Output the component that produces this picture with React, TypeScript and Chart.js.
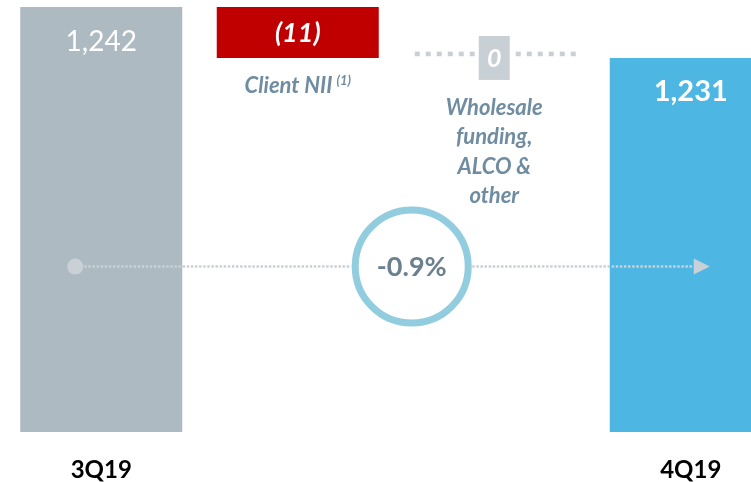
import React, { useEffect, useRef } from 'react';
import { Chart, registerables } from 'chart.js';

Chart.register(...registerables);

// ---- data ----
const categories = ['3Q19', 'Client NII', 'Wholesale funding, ALCO & other', '4Q19'];
const axisLabels = ['3Q19', '', '', '4Q19'];
const startValue = 1242;
const deltas = [-11, 0];
const endValue = 1231;
const valueLabels = ['1,242', '(11)', '0', '1,231'];
const noteLines: string[][] = [[], ['Client NII'], ['Wholesale', 'funding,', 'ALCO &', 'other'], []];
const noteSuperscripts = ['', '(1)', '', ''];
const Y_MIN = 1150.33;
const Y_MAX = 1243.5;

// ---- styles ----
const FONT = 'Lato, "Open Sans", sans-serif';
const GREY_BAR = '#adbac2';
const RED_BAR = '#c00000';
const BLUE_BAR = '#4db6e2';
const ZERO_BOX = '#c8d0d6';
const NOTE_COLOR = '#6f8ca1';
const DOT_COLOR = '#c9d1d7';
const RING_COLOR = '#92cddf';
const RING_TEXT = '#6a808e';

function buildBars() {
  const out: (number | [number, number])[] = [startValue];
  let run = startValue;
  deltas.forEach((d) => {
    const next = run + d;
    out.push([Math.min(run, next), Math.max(run, next)]);
    run = next;
  });
  out.push(endValue);
  return out;
}

const overlayPlugin = {
  id: 'waterfallOverlay',
  afterDatasetsDraw(chart: any) {
    const ctx: CanvasRenderingContext2D = chart.ctx;
    const meta = chart.getDatasetMeta(0);
    const area = chart.chartArea;
    const yScale = chart.scales.y;
    const bars = meta.data;
    ctx.save();

    // zero-change box with dotted guides
    let run = startValue;
    deltas.forEach((d, i) => {
      const idx = i + 1;
      const next = run + d;
      if (d === 0) {
        const cx = bars[idx].x;
        const cy = yScale.getPixelForValue(next);
        const bw = 31, bh = 44;
        ctx.fillStyle = ZERO_BOX;
        const gy = cy - 4;
        for (let k = 0; k < 6; k++) {
          ctx.fillRect(cx - bw / 2 - 9 - k * 11, gy - 2.3, 5, 4.6);
          ctx.fillRect(cx + bw / 2 + 6 + k * 11, gy - 2.3, 5, 4.6);
        }
        ctx.fillRect(cx - bw / 2, cy - bh / 2, bw, bh);
        ctx.fillStyle = '#ffffff';
        ctx.font = `italic bold 25px ${FONT}`;
        ctx.textAlign = 'center';
        ctx.textBaseline = 'middle';
        ctx.fillText(valueLabels[idx], cx, cy + 1);
      }
      run = next;
    });

    // value labels
    ctx.textAlign = 'center';
    ctx.fillStyle = '#ffffff';
    ctx.textBaseline = 'alphabetic';
    ctx.font = `normal 28px ${FONT}`;
    ctx.fillText(valueLabels[0], bars[0].x, bars[0].y + 44);
    ctx.font = `bold 29px ${FONT}`;
    ctx.fillText(valueLabels[3], bars[3].x, bars[3].y + 43);
    ctx.font = `italic bold 27px ${FONT}`;
    ctx.textBaseline = 'middle';
    const redTop = Math.min(bars[1].y, bars[1].base);
    const redBot = Math.max(bars[1].y, bars[1].base);
    ctx.fillText(valueLabels[1], bars[1].x, (redTop + redBot) / 2 + 1);

    // notes under delta elements
    run = startValue;
    deltas.forEach((d, i) => {
      const idx = i + 1;
      const next = run + d;
      const lines = noteLines[idx];
      const bottom = d === 0 ? yScale.getPixelForValue(next) + 22 : yScale.getPixelForValue(Math.min(run, next));
      ctx.fillStyle = NOTE_COLOR;
      ctx.textBaseline = 'alphabetic';
      lines.forEach((ln, li) => {
        ctx.font = `italic bold 22px ${FONT}`;
        const sup = li === lines.length - 1 ? noteSuperscripts[idx] : '';
        const w = ctx.measureText(ln).width;
        let supW = 0;
        if (sup) {
          ctx.font = `italic bold 13px ${FONT}`;
          supW = ctx.measureText(sup).width + 4;
        }
        const left = bars[idx].x - (w + supW) / 2;
        const base = bottom + 35 + li * 29.5;
        ctx.font = `italic bold 22px ${FONT}`;
        ctx.textAlign = 'left';
        ctx.fillText(ln, left, base);
        if (sup) {
          ctx.font = `italic bold 13px ${FONT}`;
          ctx.fillText(sup, left + w + 4, base - 8);
        }
      });
      run = next;
    });

    // dotted arrow + change ring
    const ly = area.top + 0.617 * (area.bottom - area.top);
    const x0 = bars[0].x - 26;
    const tip = bars[3].x + 19;
    const rcx = bars[1].x + 0.58 * (bars[2].x - bars[1].x);
    const rr = 56.5;
    ctx.strokeStyle = DOT_COLOR;
    ctx.lineWidth = 2.5;
    ctx.setLineDash([2.5, 1.6]);
    ctx.beginPath();
    ctx.moveTo(x0 + 9, ly);
    ctx.lineTo(rcx - rr - 4, ly);
    ctx.moveTo(rcx + rr + 4, ly);
    ctx.lineTo(tip - 16, ly);
    ctx.stroke();
    ctx.setLineDash([]);
    ctx.fillStyle = DOT_COLOR;
    ctx.beginPath();
    ctx.arc(x0, ly, 8, 0, Math.PI * 2);
    ctx.fill();
    ctx.beginPath();
    ctx.moveTo(tip - 16, ly - 8);
    ctx.lineTo(tip, ly);
    ctx.lineTo(tip - 16, ly + 8);
    ctx.closePath();
    ctx.fill();

    ctx.beginPath();
    ctx.arc(rcx, ly, rr, 0, Math.PI * 2);
    ctx.fillStyle = '#ffffff';
    ctx.fill();
    ctx.lineWidth = 7;
    ctx.strokeStyle = RING_COLOR;
    ctx.stroke();
    const pct = ((endValue - startValue) / startValue) * 100;
    ctx.fillStyle = RING_TEXT;
    ctx.font = `bold 27px ${FONT}`;
    ctx.textAlign = 'center';
    ctx.textBaseline = 'middle';
    ctx.fillText(`${pct.toFixed(1)}%`, rcx, ly + 1);

    ctx.restore();
  },
};

export default function App() {
  const ref = useRef<HTMLCanvasElement | null>(null);
  useEffect(() => {
    if (!ref.current) return;
    const chart = new Chart(ref.current, {
      type: 'bar',
      data: {
        labels: categories,
        datasets: [
          {
            data: buildBars() as any,
            backgroundColor: [GREY_BAR, RED_BAR, 'rgba(0,0,0,0)', BLUE_BAR],
            borderWidth: 0,
            barPercentage: 162 / 196.5,
            categoryPercentage: 1,
          },
        ],
      },
      options: {
        animation: false,
        responsive: false,
        layout: { padding: { left: 3, right: 4, top: 0, bottom: 0 } },
        plugins: { legend: { display: false }, tooltip: { enabled: false } },
        scales: {
          x: {
            grid: { display: false, drawTicks: false },
            border: { display: false },
            ticks: {
              font: { family: FONT, size: 24, weight: 'bold' },
              color: '#000000',
              padding: 24,
              maxRotation: 0,
              autoSkip: false,
              callback: (_v: any, i: number) => axisLabels[i],
            },
            afterFit: (s: any) => {
              s.height = 50;
            },
          },
          y: {
            display: false,
            min: Y_MIN,
            max: Y_MAX,
          },
        },
      },
      plugins: [overlayPlugin],
    });
    return () => chart.destroy();
  }, []);
  return (
    <div style={{ position: 'absolute', left: 0, top: 0, width: 751, height: 482, overflow: 'hidden', background: '#fff' }}>
      <canvas ref={ref} width={793} height={482} style={{ width: 793, height: 482, display: 'block' }} />
    </div>
  );
}
